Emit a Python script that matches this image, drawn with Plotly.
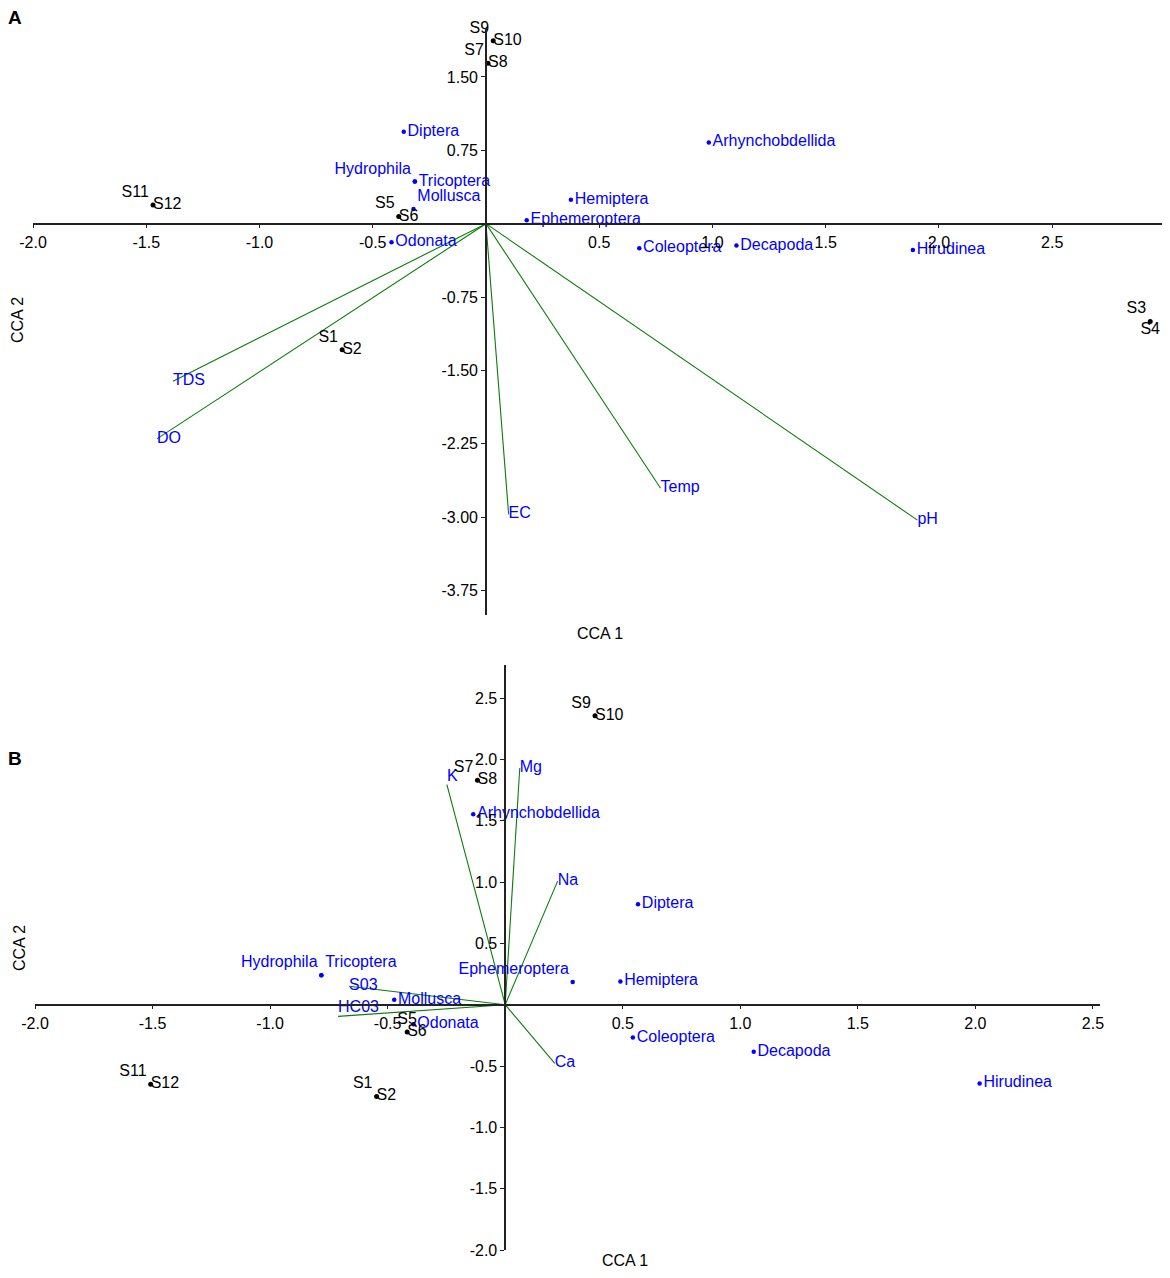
import plotly.graph_objects as go

# page is 1170x1278; the html body keeps an 8px margin, so the figure is drawn 16px smaller
W, H = 1170, 1278
OFF = 8
FW, FH = W - 2 * OFF, H - 2 * OFF

# ---------------- panel A data ----------------
a_site_first = ['S1', 'S3', 'S5', 'S7', 'S9', 'S11']
a_site_second = ['S2', 'S4', 'S6', 'S8', 'S10', 'S12']
a_site_x = [-0.635, 2.933, -0.385, 0.009, 0.032, -1.47]
a_site_y = [-1.29, -1.0, 0.072, 1.64, 1.87, 0.19]

a_species = ['Diptera', 'Arhynchobdellida', 'Hydrophila', 'Tricoptera', 'Mollusca',
             'Hemiptera', 'Ephemeroptera', 'Odonata', 'Coleoptera', 'Decapoda', 'Hirudinea']
a_species_x = [-0.363, 0.984, -0.314, -0.314, -0.32, 0.375, 0.18, -0.417, 0.677, 1.106, 1.885]
a_species_y = [0.94, 0.83, 0.43, 0.43, 0.15, 0.244, 0.034, -0.19, -0.25, -0.224, -0.27]

a_env = ['TDS', 'DO', 'EC', 'Temp', 'pH']
a_env_x = [-1.382, -1.453, 0.10, 0.771, 1.905]
a_env_y = [-1.61, -2.20, -2.97, -2.705, -3.03]

a_xticks = [-2.0, -1.5, -1.0, -0.5, 0.5, 1.0, 1.5, 2.0, 2.5]
a_xticklabels = ['-2.0', '-1.5', '-1.0', '-0.5', '0.5', '1.0', '1.5', '2.0', '2.5']
a_yticks = [1.5, 0.75, -0.75, -1.5, -2.25, -3.0, -3.75]
a_yticklabels = ['1.50', '0.75', '-0.75', '-1.50', '-2.25', '-3.00', '-3.75']

# ---------------- panel B data ----------------
b_site_first = ['S1', 'S3', 'S5', 'S7', 'S9', 'S11']
b_site_second = ['S2', 'S4', 'S6', 'S8', 'S10', 'S12']
b_site_x = [-0.547, 2.628, -0.417, -0.118, 0.382, -1.508]
b_site_y = [-0.748, -1.617, -0.222, 1.83, 2.356, -0.649]

b_species = ['Arhynchobdellida', 'Diptera', 'Hydrophila', 'Tricoptera', 'Ephemeroptera',
             'Hemiptera', 'Mollusca', 'Odonata', 'Coleoptera', 'Decapoda', 'Hirudinea']
b_species_x = [-0.136, 0.565, -0.782, -0.782, 0.287, 0.49, -0.472, -0.39, 0.543, 1.057, 2.018]
b_species_y = [1.553, 0.82, 0.241, 0.241, 0.186, 0.19, 0.041, -0.159, -0.268, -0.383, -0.642]

b_env = ['K', 'Mg', 'Na', 'S03', 'HC03', 'Ca']
b_env_x = [-0.248, 0.062, 0.223, -0.664, -0.711, 0.211]
b_env_y = [1.795, 1.93, 1.008, 0.15, -0.095, -0.479]

b_xticks = [-2.0, -1.5, -1.0, -0.5, 0.5, 1.0, 1.5, 2.0, 2.5]
b_xticklabels = ['-2.0', '-1.5', '-1.0', '-0.5', '0.5', '1.0', '1.5', '2.0', '2.5']
b_yticks = [2.5, 2.0, 1.5, 1.0, 0.5, -0.5, -1.0, -1.5, -2.0]
b_yticklabels = ['2.5', '2.0', '1.5', '1.0', '0.5', '-0.5', '-1.0', '-1.5', '-2.0']

# label placement (style, not data)
a_first_pos = ['top left'] * 6
a_second_pos = ['middle right', 'bottom center', 'middle right', 'middle right', 'middle right', 'middle right']
a_species_pos = ['middle right', 'middle right', 'top left', 'middle right', 'top right',
                 'middle right', 'middle right', 'middle right', 'middle right', 'middle right', 'middle right']
b_first_pos = ['top left', 'top left', 'top center', 'top left', 'top left', 'top left']
b_second_pos = ['middle right'] * 6
b_species_pos = ['middle right', 'middle right', 'top left', 'top right', 'top left',
                 'middle right', 'middle right', 'middle right', 'middle right', 'middle right', 'middle right']
b_env_pos = ['top right', 'middle right', 'middle right', 'middle right', 'top right', 'middle right']

FONT = 'Liberation Sans, Arial, sans-serif'
BLUE = '#0000ff'
GREEN = '#0a7d0a'
FS = 16


def vector_trace(xs, ys, xa, ya):
    lx, ly = [], []
    for x, y in zip(xs, ys):
        lx += [0, x, None]
        ly += [0, y, None]
    return go.Scatter(x=lx, y=ly, mode='lines', line=dict(color=GREEN, width=1.1),
                      xaxis=xa, yaxis=ya, hoverinfo='skip', cliponaxis=False)


def add_panel(fig, xa, ya, site_x, site_y, first, second, first_pos, second_pos,
              sp, sp_x, sp_y, sp_pos, env, env_x, env_y, env_pos):
    fig.add_trace(vector_trace(env_x, env_y, xa, ya))
    fig.add_trace(go.Scatter(x=env_x, y=env_y, mode='text', text=env, textposition=env_pos,
                             textfont=dict(color=BLUE, size=FS, family=FONT),
                             xaxis=xa, yaxis=ya, cliponaxis=False))
    fig.add_trace(go.Scatter(x=sp_x, y=sp_y, mode='markers+text', text=sp, textposition=sp_pos,
                             marker=dict(color=BLUE, size=4.5),
                             textfont=dict(color=BLUE, size=FS, family=FONT),
                             xaxis=xa, yaxis=ya, cliponaxis=False))
    fig.add_trace(go.Scatter(x=site_x, y=site_y, mode='markers+text', text=first, textposition=first_pos,
                             marker=dict(color='black', size=5),
                             textfont=dict(color='black', size=FS, family=FONT),
                             xaxis=xa, yaxis=ya, cliponaxis=False))
    fig.add_trace(go.Scatter(x=site_x, y=site_y, mode='text', text=second, textposition=second_pos,
                             textfont=dict(color='black', size=FS, family=FONT),
                             xaxis=xa, yaxis=ya, cliponaxis=False))


fig = go.Figure()
add_panel(fig, 'x', 'y', a_site_x, a_site_y, a_site_first, a_site_second, a_first_pos, a_second_pos,
          a_species, a_species_x, a_species_y, a_species_pos, a_env, a_env_x, a_env_y, ['middle right'] * 5)
add_panel(fig, 'x2', 'y2', b_site_x, b_site_y, b_site_first, b_site_second, b_first_pos, b_second_pos,
          b_species, b_species_x, b_species_y, b_species_pos, b_env, b_env_x, b_env_y, b_env_pos)


def fx(px):
    return min(1.0, max(0.0, (px - OFF) / FW))


def fy(py):
    return min(1.0, max(0.0, 1 - (py - OFF) / FH))


# plot areas, given in page pixels (panel A axis runs to the figure's right edge)
a_xr, a_yr = [-2.0, 2.985], [-4.0, 2.0]
b_xr, b_yr = [-2.0, 2.53], [-2.0, 2.77]
a_xd = [fx(33), fx(1162)]
a_yd = [fy(615), fy(28)]
b_xd = [fx(35), fx(1100)]
b_yd = [fy(1250), fy(665)]


def zero_pos(rng, dom):
    return dom[0] + (0 - rng[0]) / (rng[1] - rng[0]) * (dom[1] - dom[0])


def axis(rng, dom, pos, tv, tt, side):
    return dict(range=rng, domain=dom, anchor='free', position=pos, side=side,
                showgrid=False, zeroline=False, showline=True, linecolor='#222', linewidth=1.5,
                ticks='outside', ticklen=4, tickwidth=1, tickcolor='#222',
                tickvals=tv, ticktext=tt, tickfont=dict(size=FS, family=FONT, color='black'),
                automargin=False, fixedrange=True)


fig.update_layout(
    template='none',
    width=FW, height=FH, showlegend=False,
    paper_bgcolor='white', plot_bgcolor='white',
    margin=dict(l=0, r=0, t=0, b=0, pad=0, autoexpand=False),
    xaxis=axis(a_xr, a_xd, zero_pos(a_yr, a_yd), a_xticks, a_xticklabels, 'bottom'),
    yaxis=axis(a_yr, a_yd, zero_pos(a_xr, a_xd), a_yticks, a_yticklabels, 'left'),
    xaxis2=axis(b_xr, b_xd, zero_pos(b_yr, b_yd), b_xticks, b_xticklabels, 'bottom'),
    yaxis2=axis(b_yr, b_yd, zero_pos(b_xr, b_xd), b_yticks, b_yticklabels, 'left'),
)


def note(text, px, py, size=FS, bold=False, angle=0):
    fig.add_annotation(text='<b>%s</b>' % text if bold else text, x=fx(px), y=fy(py),
                       xref='paper', yref='paper', showarrow=False, textangle=angle,
                       xanchor='center', yanchor='middle',
                       font=dict(size=size, family=FONT, color='black'))


note('A', 15, 18, size=19, bold=True)
note('B', 15, 758, size=19, bold=True)
note('CCA 1', 600, 633)
note('CCA 2', 18, 320, angle=-90)
note('CCA 1', 625, 1260)
note('CCA 2', 19, 948, angle=-90)

fig.write_html('out.html')
